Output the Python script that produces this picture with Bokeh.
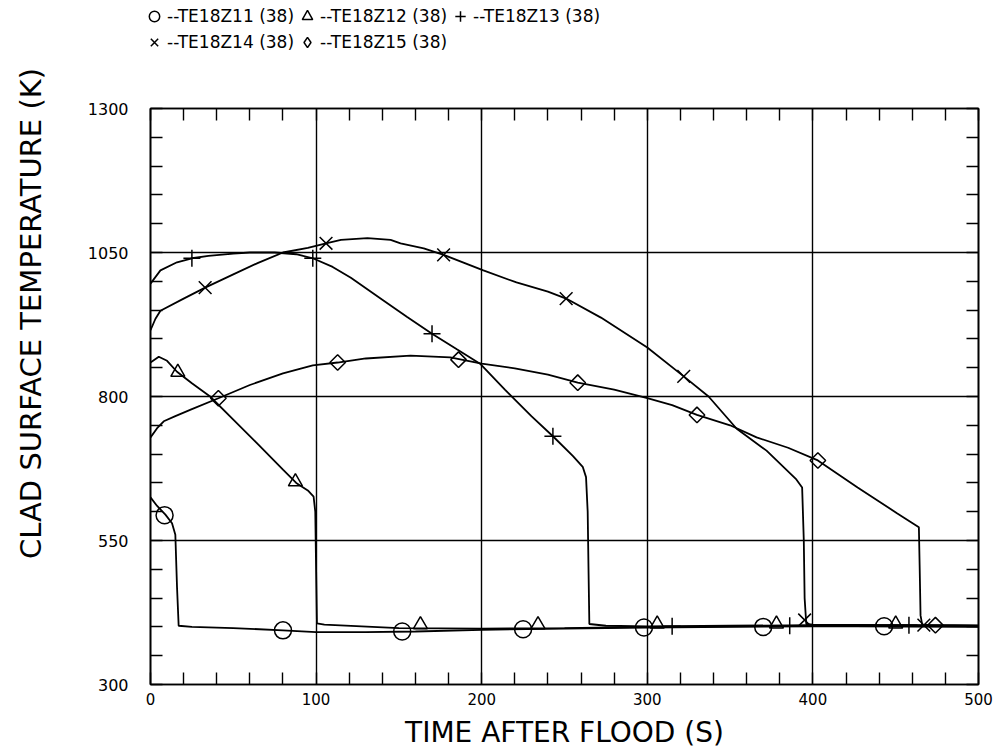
import math
from bokeh.plotting import figure
from bokeh.layouts import row, column
from bokeh.models import Range1d, FixedTicker, LinearAxis, Legend, LegendItem, Label
from bokeh.embed import file_html
from bokeh.resources import INLINE

# ---------------- data ----------------
x_ticks = [0, 100, 200, 300, 400, 500]
x_minor = list(range(0, 501, 20))
y_ticks = [300, 550, 800, 1050, 1300]
y_minor = list(range(300, 1301, 50))
x_grid = [100, 200, 300, 400]
y_grid = [550, 800, 1050]

names = ["--TE18Z11 (38)", "--TE18Z12 (38)", "--TE18Z13 (38)",
         "--TE18Z14 (38)", "--TE18Z15 (38)"]

t11 = [0, 4, 9, 13, 15, 16, 17, 25, 50, 80, 100, 130, 160, 200, 250, 300, 350, 400, 450, 500]
T11 = [625, 610, 595, 580, 560, 470, 402, 400, 398, 394, 391, 391, 392, 395, 397, 399, 400, 401, 401, 400]
m11_t = [8.5, 80, 152, 225, 298, 370, 443]
m11_T = [594, 394, 392, 396, 399, 400, 401]

t12 = [0, 5, 10, 16, 25, 36, 50, 65, 80, 88, 95, 98.5, 99.5, 100, 100.5, 105, 150, 200, 250, 300, 350, 400, 450, 500]
T12 = [859, 869, 862, 843, 823, 800, 760, 717, 673, 650, 637, 626, 600, 500, 406, 404, 398, 397, 398, 400, 401, 402, 401, 401]
m12_t = [16.5, 87.5, 163, 234, 306, 378, 450]
m12_T = [842, 652, 404, 404, 405, 405, 405]

t13 = [0, 6, 16, 25, 35, 50, 60, 75, 88, 98, 110, 121, 140, 155, 170, 185, 199, 214, 230, 243, 255, 261,
       263, 264, 264.5, 265, 275, 300, 350, 400, 450, 500]
T13 = [996, 1019, 1033, 1040, 1044, 1048, 1050, 1050, 1047, 1040, 1025, 1006, 968, 938, 909, 882, 857, 812, 766,
       731, 697, 678, 660, 600, 500, 405, 402, 401, 402, 403, 403, 402]
m13_t = [25, 98, 170, 243, 315, 386, 458]
m13_T = [1040, 1040, 909, 731, 401, 402, 403]

t14 = [0, 3, 6, 20, 33, 50, 65, 80, 95, 106, 115, 131, 145, 151, 165, 177, 201, 221, 240, 251, 272, 300,
       322, 337, 354, 372, 390, 393.5, 394.5, 395, 396, 400, 450, 500]
T14 = [915, 935, 949, 970, 989, 1012, 1032, 1050, 1058, 1066, 1072, 1075, 1072, 1066, 1057, 1046, 1019, 998,
       982, 970, 937, 885, 835, 800, 744, 706, 656, 642, 550, 450, 405, 404, 403, 402]
m14_t = [33, 106, 177, 251, 322, 395, 467]
m14_T = [989, 1066, 1046, 970, 835, 412, 403]

t15 = [0, 4, 8, 15, 25, 41, 60, 80, 98, 113, 130, 157, 181, 200, 220, 240, 258, 280, 300, 315, 330, 350,
       366, 385, 403, 427, 451, 464, 464.5, 465, 466, 470, 500]
T15 = [729, 745, 757, 766, 778, 797, 820, 840, 854, 859, 866, 871, 868, 857, 849, 838, 824, 812, 797, 785,
       768, 750, 729, 711, 689, 642, 597, 573, 500, 420, 404, 403, 402]
m15_t = [41, 113, 186, 258, 330, 403, 474]
m15_T = [797, 859, 864, 824, 768, 689, 403]

# (times, temps, marker times, marker temps, chart marker, size, angle, legend marker)
series = [
    (t11, T11, m11_t, m11_T, "circle", 17, 0.0, "circle"),
    (t12, T12, m12_t, m12_T, "triangle", 14, 0.0, "triangle"),
    (t13, T13, m13_t, m13_T, "cross", 17, 0.0, "cross"),
    (t14, T14, m14_t, m14_T, "x", 18, 0.0, "x"),
    (t15, T15, m15_t, m15_T, "square", 11, math.pi / 4, "diamond"),
]

FONT = "DejaVu Sans"


def blank(fig):
    fig.axis.visible = False
    fig.grid.visible = False
    fig.outline_line_color = None
    fig.background_fill_color = "white"
    fig.border_fill_color = "white"
    fig.frame_align = False


# ---------------- main chart ----------------
p = figure(width=940, height=653, output_backend="svg", toolbar_location=None,
           x_range=Range1d(0, 500), y_range=Range1d(300, 1300),
           min_border_left=90, min_border_right=22, min_border_top=10, min_border_bottom=67)
p.background_fill_color = "white"
p.border_fill_color = "white"
p.outline_line_color = "black"
p.outline_line_width = 1.6

p.xgrid.ticker = FixedTicker(ticks=x_grid)
p.ygrid.ticker = FixedTicker(ticks=y_grid)
for g in (p.xgrid[0], p.ygrid[0]):
    g.grid_line_color = "black"
    g.grid_line_width = 1.4
    g.grid_line_alpha = 1.0

xax = p.xaxis[0]
yax = p.yaxis[0]
xax.ticker = FixedTicker(ticks=x_ticks, minor_ticks=x_minor)
yax.ticker = FixedTicker(ticks=y_ticks, minor_ticks=y_minor)
for ax in (xax, yax):
    ax.axis_line_color = "black"
    ax.axis_line_width = 1.6
    ax.major_tick_in = 0
    ax.major_tick_out = 0
    ax.minor_tick_in = 12
    ax.minor_tick_out = 0
    ax.minor_tick_line_color = "black"
    ax.minor_tick_line_width = 1.4
    ax.major_label_text_font = FONT
    ax.major_label_text_color = "black"
xax.major_label_text_font_size = "15px"
xax.major_label_standoff = 8
xax.axis_label = "TIME AFTER FLOOD (S)"
xax.axis_label_text_font = FONT
xax.axis_label_text_font_style = "normal"
xax.axis_label_text_font_size = "28px"
xax.axis_label_text_color = "black"
xax.axis_label_standoff = 8
yax.major_label_text_font_size = "16px"
yax.major_label_standoff = 22

top_ax = LinearAxis(ticker=FixedTicker(ticks=[], minor_ticks=x_minor))
right_ax = LinearAxis(ticker=FixedTicker(ticks=[], minor_ticks=y_minor))
for ax in (top_ax, right_ax):
    ax.axis_line_color = "black"
    ax.axis_line_width = 1.6
    ax.major_tick_in = 0
    ax.major_tick_out = 0
    ax.minor_tick_in = 12
    ax.minor_tick_out = 0
    ax.minor_tick_line_color = "black"
    ax.minor_tick_line_width = 1.4
    ax.major_label_standoff = 0
p.add_layout(top_ax, "above")
p.add_layout(right_ax, "right")

for (t, T, mt, mT, mk, sz, ang, lmk) in series:
    p.line(t, T, line_color="black", line_width=1.8)
    p.scatter(mt, mT, marker=mk, size=sz, angle=ang, fill_color=None,
              line_color="black", line_width=1.5)

# ---------------- legend strip on top ----------------
# its ranges hold none of the data, so only the legend's own glyphs show
top = figure(width=940, height=98, output_backend="svg", toolbar_location=None,
             x_range=Range1d(-20, -10), y_range=Range1d(0, 1),
             min_border_left=0, min_border_right=0, min_border_top=0, min_border_bottom=0)
blank(top)
items = []
for (t, T, mt, mT, mk, sz, ang, lmk), name in zip(series, names):
    r = top.scatter(mt, mT, marker=lmk, size=sz, fill_color=None,
                    line_color="black", line_width=1.5)
    items.append(LegendItem(label=name, renderers=[r]))
legend = Legend(items=items, location=(81, 43), orientation="horizontal", ncols=3,
                glyph_width=26, glyph_height=26, label_standoff=0, spacing=0,
                padding=0, margin=0, border_line_color=None, background_fill_alpha=0,
                label_text_font=FONT, label_text_font_size="17px", label_text_color="black",
                label_height=22)
top.add_layout(legend, "center")

# ---------------- y-axis title strip on the left ----------------
left = figure(width=60, height=751, output_backend="svg", toolbar_location=None,
              x_range=Range1d(0, 60), y_range=Range1d(0, 751),
              min_border_left=0, min_border_right=0, min_border_top=0, min_border_bottom=0)
blank(left)
left.add_layout(Label(x=30, y=438, text="CLAD SURFACE TEMPERATURE (K)", angle=90, angle_units="deg",
                      text_align="center", text_baseline="middle",
                      text_font=FONT, text_font_size="29px", text_color="black"))

layout = row(left, column(top, p, spacing=0), spacing=0)
open("out.html", "w").write(file_html(layout, INLINE))
